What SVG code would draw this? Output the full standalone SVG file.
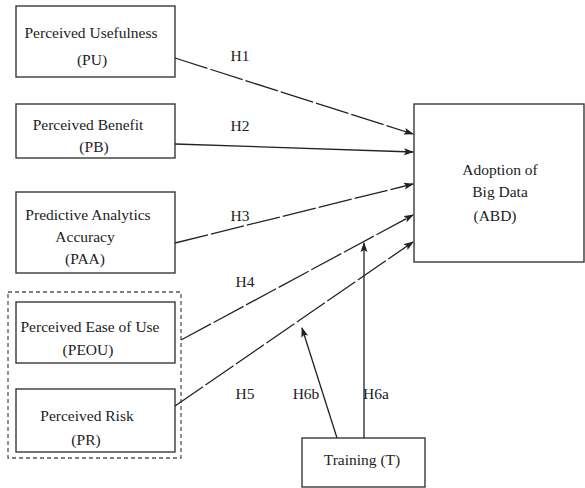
<svg xmlns="http://www.w3.org/2000/svg" width="585" height="488" viewBox="0 0 585 488">
<style>
.box{fill:#fff;stroke:#3a3a3a;stroke-width:1.4}
.grp{fill:none;stroke:#555;stroke-width:1.3;stroke-dasharray:4 3}
text{font-family:"Liberation Serif","Times New Roman",serif;font-size:15.5px;fill:#222;text-anchor:middle}
.c{fill:none;stroke:#222;stroke-width:1.3}
.d{stroke-dasharray:34 3}
</style>
<defs>
<marker id="ah" markerWidth="10" markerHeight="8" refX="9" refY="4" orient="auto" markerUnits="userSpaceOnUse">
<path d="M0,0.5 L10,4 L0,7.5 L2,4 Z" fill="#222"/>
</marker>
</defs>
<rect width="585" height="488" fill="#fff"/>
<g id="group-frame"><rect class="grp" x="8" y="292" width="173" height="166"/></g>
<g id="PU"><rect class="box" x="16" y="6" width="159" height="71"/><text x="91" y="38">Perceived Usefulness</text><text x="92" y="65">(PU)</text></g>
<g id="PB"><rect class="box" x="16" y="104" width="159" height="54"/><text x="88" y="130">Perceived Benefit</text><text x="94" y="152">(PB)</text></g>
<g id="PAA"><rect class="box" x="16" y="192" width="159" height="81"/><text x="88" y="220">Predictive Analytics</text><text x="85" y="242">Accuracy</text><text x="85" y="264">(PAA)</text></g>
<g id="PEOU"><rect class="box" x="16" y="302" width="159" height="61"/><text x="90" y="332">Perceived Ease of Use</text><text x="88" y="355">(PEOU)</text></g>
<g id="PR"><rect class="box" x="16" y="389" width="159" height="63"/><text x="87" y="421">Perceived Risk</text><text x="86" y="445">(PR)</text></g>
<g id="ABD"><rect class="box" x="414" y="104" width="170" height="158"/><text x="500" y="175">Adoption of</text><text x="500" y="197">Big Data</text><text x="495" y="221">(ABD)</text></g>
<g id="T"><rect class="box" x="302" y="438" width="123" height="49"/><text x="362" y="465">Training (T)</text></g>
<g id="connectors">
<line class="c d" x1="175" y1="58" x2="413" y2="134" marker-end="url(#ah)"/>
<line class="c" x1="175" y1="144" x2="413" y2="152" marker-end="url(#ah)"/>
<line class="c d" x1="175" y1="243" x2="413" y2="184" marker-end="url(#ah)"/>
<line class="c d" x1="181" y1="340" x2="413" y2="215" marker-end="url(#ah)"/>
<line class="c d" x1="175" y1="406" x2="413" y2="242" marker-end="url(#ah)"/>
<line class="c" x1="364" y1="438" x2="364" y2="243" marker-end="url(#ah)"/>
<line class="c" x1="337" y1="438" x2="302" y2="328" marker-end="url(#ah)"/>
<text x="240" y="61">H1</text>
<text x="240" y="131">H2</text>
<text x="240" y="221">H3</text>
<text x="245" y="287">H4</text>
<text x="245" y="399">H5</text>
<text x="306" y="399">H6b</text>
<text x="376" y="399">H6a</text>
</g>
</svg>
